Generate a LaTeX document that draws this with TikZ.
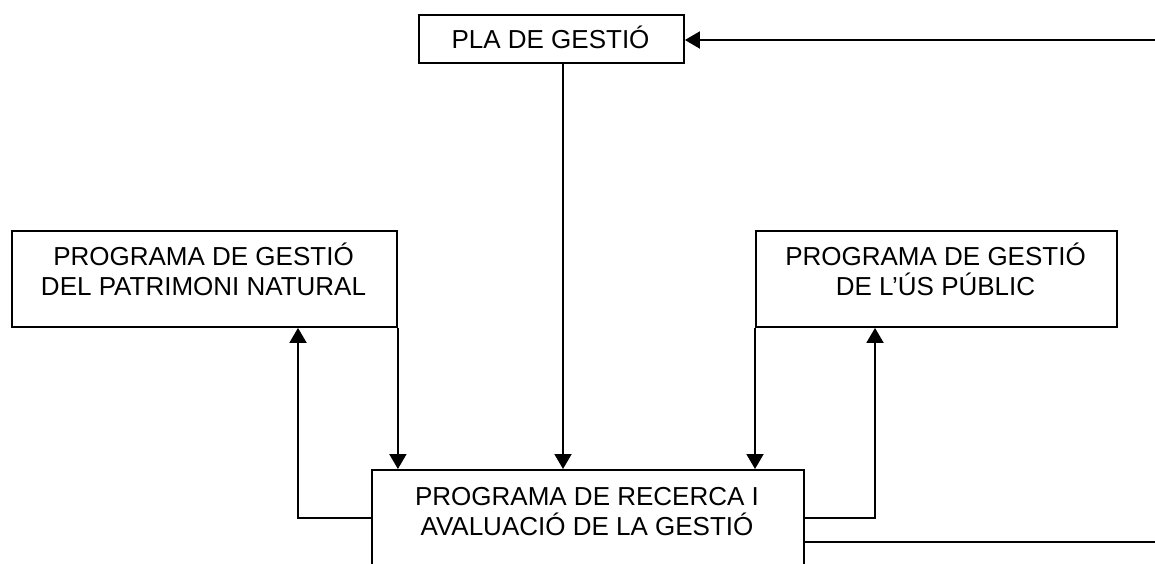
\documentclass[tikz,border=0pt]{standalone}
\usepackage{fontspec}
\setmainfont{Liberation Sans}
\usetikzlibrary{arrows.meta,calc}
\begin{document}
\begin{tikzpicture}[x=1pt,y=-1pt,
  box/.style={draw,line width=1.9pt,rectangle,inner sep=0pt,anchor=north west},
  txt/.style={align=center,inner sep=0pt,font=\fontsize{26}{30}\selectfont},
  conn/.style={line width=1.9pt},
  arr/.style={conn,-{Triangle[length=15pt,width=17pt]}}]
\useasboundingbox (0,0) rectangle (1155,563);
\clip (0,0) rectangle (1155,563);
\node[box,minimum width=265pt,minimum height=48pt] (T) at (418,14) {};
\node[txt,anchor=base] (Tt) at (550.5,48) {PLA DE GESTIÓ};
\node[box,minimum width=385pt,minimum height=96pt] (L) at (11,230) {};
\node[txt,anchor=base] (Lt) at (203.5,295) {PROGRAMA DE GESTIÓ\\DEL PATRIMONI NATURAL};
\node[box,minimum width=361pt,minimum height=96pt] (R) at (755,230) {};
\node[txt,anchor=base] (Rt) at (935.5,295) {PROGRAMA DE GESTIÓ\\DE L’ÚS PÚBLIC};
\node[box,minimum width=432pt,minimum height=130pt] (B) at (371,469) {};
\node[txt,anchor=base] (Bt) at (587,535) {PROGRAMA DE RECERCA I\\AVALUACIÓ DE LA GESTIÓ};
\coordinate (rin) at (1160,40);
\coordinate (rout) at (1160,542);
\draw[arr] (rin) -- (rin -| T.east);
\draw[arr] (T.south -| 563,0) -- (B.north -| 563,0);
\draw[arr] (L.south east) -- (B.north -| L.south east);
\draw[arr] (R.south west) -- (B.north -| R.south west);
\draw[arr] ($(B.north west)+(0,49)$) -| ($(L.south west)+(287,0)$);
\draw[arr] ($(B.north east)+(0,49)$) -| ($(R.south west)+(120,0)$);
\draw[conn] ($(B.north east)+(0,73)$) -- (rout);
\end{tikzpicture}
\end{document}
